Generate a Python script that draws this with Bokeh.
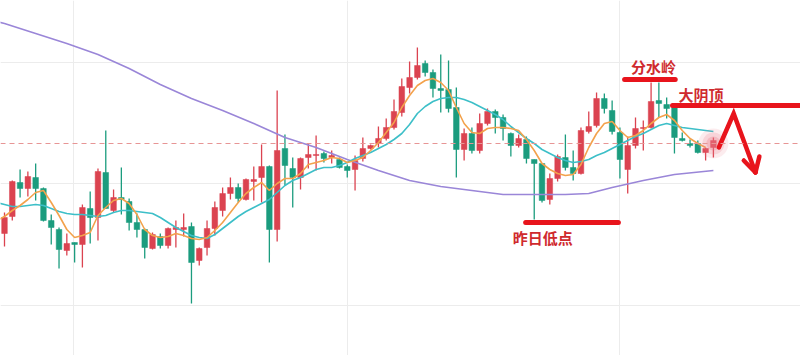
from bokeh.plotting import figure
from bokeh.models import Range1d, FixedTicker, Label, Span, ColumnDataSource
from bokeh.embed import file_html
from bokeh.resources import INLINE

# ---------------- data ----------------
opens = [122, 139, 173, 167, 178, 167, 135, 126, 105, 113, 111, 147, 138, 183, 145, 158,
         154, 133, 126, 107, 119, 110, 126, 126, 129, 95, 108, 127, 145, 162, 168, 156,
         174, 178, 189, 126, 207, 187, 178, 198, 200, 202, 198, 196, 189, 186, 197, 207,
         212, 217, 228, 243, 268, 278, 292, 283, 267, 266, 248, 206, 222, 205, 232, 244,
         238, 222, 210, 216, 196, 192, 156, 177, 198, 188, 182, 224, 230, 257, 245, 223,
         186, 210, 227, 228, 255, 251, 248, 217, 212, 212, 203, 208]
closes = [138, 174, 167, 179, 167, 135, 128, 106, 112, 111, 148, 138, 184, 147, 158, 156,
          133, 126, 108, 121, 110, 127, 128, 128, 93, 107, 127, 148, 162, 168, 157, 176,
          176, 189, 126, 205, 190, 178, 197, 201, 201, 197, 200, 188, 185, 195, 207, 210,
          217, 228, 244, 269, 278, 290, 283, 267, 265, 247, 206, 222, 205, 232, 244, 238,
          227, 210, 217, 197, 192, 155, 177, 199, 188, 182, 225, 229, 257, 247, 224, 196,
          210, 227, 228, 254, 252, 247, 218, 215, 210, 203, 207, 215]
highs = [143, 175, 186, 184, 192, 168, 141, 128, 122, 113, 151, 164, 187, 225, 166, 188,
         157, 142, 127, 123, 122, 128, 135, 142, 133, 108, 135, 154, 168, 178, 172, 177,
         189, 211, 190, 265, 221, 198, 198, 212, 220, 204, 205, 198, 191, 200, 218, 211,
         229, 237, 256, 277, 294, 308, 295, 286, 301, 295, 268, 227, 228, 242, 247, 246,
         241, 223, 221, 219, 196, 192, 182, 201, 221, 205, 228, 244, 263, 262, 255, 228,
         219, 238, 235, 273, 273, 258, 249, 223, 216, 215, 208, 218]
lows = [109, 135, 158, 159, 155, 134, 111, 87, 100, 93, 88, 112, 115, 147, 143, 141,
        125, 118, 97, 106, 107, 107, 108, 119, 52, 90, 100, 120, 139, 156, 153, 155,
        155, 153, 93, 114, 170, 148, 166, 187, 185, 193, 192, 187, 178, 165, 194, 206,
        208, 215, 226, 239, 262, 276, 279, 258, 243, 243, 178, 195, 202, 202, 230, 222,
        215, 199, 208, 192, 136, 153, 151, 174, 185, 175, 181, 222, 228, 242, 221, 177,
        162, 207, 205, 227, 238, 237, 202, 214, 208, 202, 195, 198]

ma_fast_idx = list(range(-1, 91))
ma_fast = [135, 139, 145, 150, 156, 163, 165, 153, 140, 126, 118, 120, 123, 140, 148, 155,
           157, 152, 141, 126, 120, 118, 119, 122, 120, 117, 116, 118, 125, 133, 143, 153,
           162, 168, 173, 165, 172, 177, 177, 182, 191, 193, 195, 198, 197, 193, 195, 198,
           205, 213, 223, 233, 248, 260, 270, 275, 277, 273, 265, 248, 232, 223, 222, 227,
           228, 228, 227, 225, 216, 205, 192, 186, 182, 180, 181, 191, 208, 222, 232, 234,
           225, 218, 220, 225, 232, 238, 241, 235, 225, 217, 212, 208]
ma_mid_idx = list(range(-1, 92))
ma_mid = [153, 151, 149, 149, 150, 151, 150, 147, 144, 142, 141, 141, 140, 139, 140, 143,
          145, 145, 144, 143, 142, 138, 133, 128, 124, 120, 118, 117, 121, 127, 133, 139,
          144, 148, 152, 156, 163, 170, 175, 178, 182, 186, 188, 188, 190, 193, 197, 200,
          203, 207, 211, 216, 222, 231, 242, 249, 254, 257, 258, 258, 256, 253, 249, 245,
          241, 236, 229, 223, 217, 212, 206, 202, 198, 195, 193, 194, 196, 200, 203, 207,
          211, 215, 219, 222, 226, 230, 232, 230, 228, 227, 226, 225, 224]
ma_slow_idx = [-1, 0, 4, 8, 12, 16, 20, 24, 28, 32, 36, 40, 44, 48, 52, 56, 60, 64, 68,
               72, 75, 78, 82, 86, 91]
ma_slow = [334, 332, 322, 312, 301, 287, 271, 257, 245, 232, 218, 208, 196, 185, 175, 169,
           165, 161, 161, 161, 162, 168, 175, 181, 185]

grid_x = [8.9, 44, 79]
grid_y = [50, 172, 293]
ref_level = 212

low_line_x = [66.9, 78.8]
low_line_y = [133, 133]
ridge_line_x = [79.6, 86.1]
ridge_line_y = [276, 276]
top_line_x = [85.75, 104]
top_line_y = [250, 250]
zigzag_x = [91.7, 93.6, 96.4]
zigzag_y = [208, 242, 183]
head_left_x = [94.9, 96.4]
head_left_y = [195, 183]
head_right_x = [96.9, 96.4]
head_right_y = [199, 183]

UP = "#db4350"
DOWN = "#1b9c7e"
RED = "#e8141c"
TXT = "#cf2a2e"

idx = list(range(len(opens)))
src = ColumnDataSource(dict(
    x=idx, open=opens, close=closes, high=highs, low=lows,
    top=[max(o, c) for o, c in zip(opens, closes)],
    bottom=[min(o, c) for o, c in zip(opens, closes)],
    color=[UP if c >= o else DOWN for o, c in zip(opens, closes)],
))

p = figure(width=800, height=355, x_range=Range1d(-0.5135, 102.18), y_range=Range1d(0, 355),
           output_backend="svg", toolbar_location=None,
           x_axis_location=None, y_axis_location=None, min_border=0)
p.outline_line_color = None
p.background_fill_color = "white"
p.border_fill_color = "white"
p.xgrid.ticker = FixedTicker(ticks=grid_x)
p.ygrid.ticker = FixedTicker(ticks=grid_y)
p.grid.grid_line_color = "#ececec"
p.grid.grid_line_width = 1

p.add_layout(Span(location=ref_level, dimension="width", line_color="#e79595",
                  line_dash="5 4", line_width=1))

p.segment(x0="x", y0="high", x1="x", y1="low", color="color", line_width=1.3, source=src)
p.vbar(x="x", width=0.72, top="top", bottom="bottom", fill_color="color", line_color="color",
       line_width=0.5, source=src)

p.line(ma_slow_idx, ma_slow, line_color="#9a86d8", line_width=1.6)
p.line(ma_mid_idx, ma_mid, line_color="#3dbfc8", line_width=1.6)
p.line(ma_fast_idx, ma_fast, line_color="#f3a24c", line_width=1.6)

# glow at the last candle
for s, a in [(30, 0.14), (22, 0.2), (14, 0.3)]:
    p.scatter([91], [212], size=s, fill_color="#ea7a88", fill_alpha=a, line_color=None)

for xs, ys, w in [(low_line_x, low_line_y, 5), (ridge_line_x, ridge_line_y, 5),
                  (top_line_x, top_line_y, 5)]:
    p.line(xs, ys, line_color=RED, line_width=w, line_cap="round")

p.line(zigzag_x, zigzag_y, line_color=RED, line_width=4.5, line_join="miter", line_cap="round")
p.line(head_left_x, head_left_y, line_color=RED, line_width=4.5, line_cap="round")
p.line(head_right_x, head_right_y, line_color=RED, line_width=4.5, line_cap="round")

for tx, ty, t in [(69.1, 118, "昨日低点"), (83.3, 289, "分水岭"), (89.4, 261, "大阴顶")]:
    p.add_layout(Label(x=tx, y=ty, text=t, text_align="center", text_baseline="middle",
                       text_font="Noto Sans CJK SC", text_font_size="15px",
                       text_font_style="bold", text_color=TXT))

open("out.html", "w").write(file_html(p, INLINE))
